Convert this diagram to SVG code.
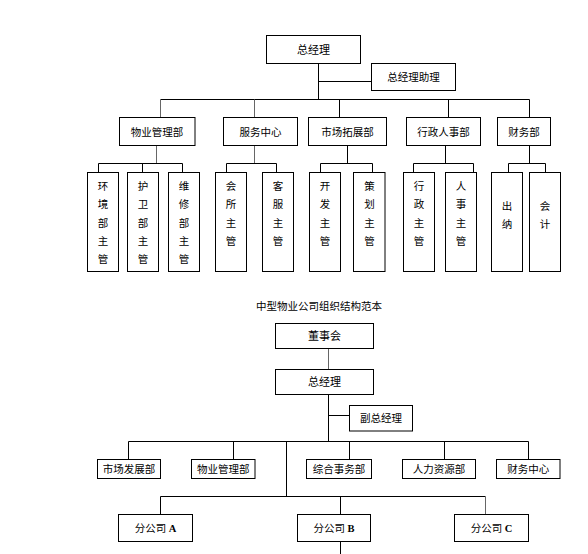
<svg xmlns="http://www.w3.org/2000/svg" width="588" height="554" viewBox="0 0 588 554">
<style>
rect{fill:#fff;stroke:#000;stroke-width:1}
text{font-family:"Noto Sans CJK SC","Noto Sans CJK JP",sans-serif;font-size:10.5px;fill:#000;text-anchor:middle}
.c line{stroke:#000;stroke-width:1}
.c line.g{stroke:#666}
.lat{font-family:"Liberation Serif",serif;font-weight:bold}
</style>
<rect x="0" y="0" width="588" height="554" style="stroke:none"/>
<g class="c" id="connectors">
<line x1="318.5" y1="63" x2="318.5" y2="99.5"/>
<line x1="318.5" y1="81.5" x2="371.5" y2="81.5"/>
<line x1="160.5" y1="99.5" x2="529.5" y2="99.5"/>
<line class="g" x1="160.5" y1="99.5" x2="160.5" y2="117.5"/>
<line class="g" x1="254.5" y1="99.5" x2="254.5" y2="117.5"/>
<line x1="339.5" y1="99.5" x2="339.5" y2="117.5"/>
<line x1="448.5" y1="99.5" x2="448.5" y2="117.5"/>
<line x1="529.5" y1="99.5" x2="529.5" y2="117.5"/>
<line class="g" x1="156.5" y1="145.5" x2="156.5" y2="163.5"/>
<line x1="98.5" y1="163.5" x2="182.5" y2="163.5"/>
<line x1="98.5" y1="163.5" x2="98.5" y2="172.5"/>
<line x1="142.5" y1="163.5" x2="142.5" y2="172.5"/>
<line x1="182.5" y1="163.5" x2="182.5" y2="172.5"/>
<line class="g" x1="254.5" y1="145.5" x2="254.5" y2="163.5"/>
<line x1="226.5" y1="163.5" x2="276.5" y2="163.5"/>
<line x1="226.5" y1="163.5" x2="226.5" y2="172.5"/>
<line x1="276.5" y1="163.5" x2="276.5" y2="172.5"/>
<line x1="347.5" y1="145.5" x2="347.5" y2="163.5"/>
<line x1="320.5" y1="163.5" x2="372.5" y2="163.5"/>
<line x1="320.5" y1="163.5" x2="320.5" y2="172.5"/>
<line x1="372.5" y1="163.5" x2="372.5" y2="172.5"/>
<line x1="445.5" y1="145.5" x2="445.5" y2="163.5"/>
<line x1="413.5" y1="163.5" x2="473.5" y2="163.5"/>
<line x1="413.5" y1="163.5" x2="413.5" y2="172.5"/>
<line x1="473.5" y1="163.5" x2="473.5" y2="172.5"/>
<line x1="529.5" y1="145.5" x2="529.5" y2="163.5"/>
<line x1="508.5" y1="163.5" x2="545.5" y2="163.5"/>
<line x1="508.5" y1="163.5" x2="508.5" y2="172.5"/>
<line x1="545.5" y1="163.5" x2="545.5" y2="172.5"/>
<line class="g" x1="328.5" y1="348.5" x2="328.5" y2="369.5"/>
<line x1="328.5" y1="394.5" x2="328.5" y2="441.5"/>
<line x1="328.5" y1="415.5" x2="349.5" y2="415.5"/>
<line x1="128.5" y1="441.5" x2="528.5" y2="441.5"/>
<line x1="128.5" y1="441.5" x2="128.5" y2="459.5"/>
<line x1="233.5" y1="441.5" x2="233.5" y2="459.5"/>
<line x1="349.5" y1="441.5" x2="349.5" y2="459.5"/>
<line x1="444.5" y1="441.5" x2="444.5" y2="459.5"/>
<line x1="528.5" y1="441.5" x2="528.5" y2="459.5"/>
<line x1="286.5" y1="441.5" x2="286.5" y2="496.5"/>
<line x1="160.5" y1="496.5" x2="485.5" y2="496.5"/>
<line x1="160.5" y1="496.5" x2="160.5" y2="514.5"/>
<line x1="340.5" y1="496.5" x2="340.5" y2="514.5"/>
<line class="g" x1="485.5" y1="496.5" x2="485.5" y2="514.5"/>
<line x1="340.5" y1="541.5" x2="340.5" y2="554"/>
</g>
<g id="n_gm"><rect x="266.5" y="35.5" width="94" height="28"/><text x="313.5" y="53.5" style="font-size:11px">总经理</text></g>
<g id="n_asst"><rect x="371.5" y="63.5" width="84" height="27"/><text x="413.5" y="81">总经理助理</text></g>
<g id="n_wy"><rect x="119.5" y="117.5" width="75.5" height="28"/><text x="157" y="135.5">物业管理部</text></g>
<g id="n_fw"><rect x="223.5" y="117.5" width="74" height="28"/><text x="260.5" y="135.5">服务中心</text></g>
<g id="n_sc"><rect x="308.5" y="117.5" width="78" height="28"/><text x="347.5" y="135.5">市场拓展部</text></g>
<g id="n_xz"><rect x="406.5" y="117.5" width="74" height="28"/><text x="443.5" y="135.5">行政人事部</text></g>
<g id="n_cw"><rect x="497.5" y="117.5" width="53" height="28"/><text x="524" y="135.5">财务部</text></g>
<g id="s_hj"><rect x="87.5" y="172.5" width="31" height="99"/><text y="190"><tspan x="103">环</tspan><tspan x="103" dy="18.25">境</tspan><tspan x="103" dy="18.25">部</tspan><tspan x="103" dy="18.25">主</tspan><tspan x="103" dy="18.25">管</tspan></text></g>
<g id="s_hw"><rect x="127.5" y="172.5" width="31" height="99"/><text y="190"><tspan x="143">护</tspan><tspan x="143" dy="18.25">卫</tspan><tspan x="143" dy="18.25">部</tspan><tspan x="143" dy="18.25">主</tspan><tspan x="143" dy="18.25">管</tspan></text></g>
<g id="s_wx"><rect x="168.5" y="172.5" width="31" height="99"/><text y="190"><tspan x="184">维</tspan><tspan x="184" dy="18.25">修</tspan><tspan x="184" dy="18.25">部</tspan><tspan x="184" dy="18.25">主</tspan><tspan x="184" dy="18.25">管</tspan></text></g>
<g id="s_hs"><rect x="215.5" y="172.5" width="31" height="99"/><text y="190"><tspan x="231">会</tspan><tspan x="231" dy="18.25">所</tspan><tspan x="231" dy="18.25">主</tspan><tspan x="231" dy="18.25">管</tspan></text></g>
<g id="s_kf"><rect x="262.5" y="172.5" width="31" height="99"/><text y="190"><tspan x="278">客</tspan><tspan x="278" dy="18.25">服</tspan><tspan x="278" dy="18.25">主</tspan><tspan x="278" dy="18.25">管</tspan></text></g>
<g id="s_kfa"><rect x="309.5" y="172.5" width="31" height="99"/><text y="190"><tspan x="325">开</tspan><tspan x="325" dy="18.25">发</tspan><tspan x="325" dy="18.25">主</tspan><tspan x="325" dy="18.25">管</tspan></text></g>
<g id="s_ch"><rect x="353.5" y="172.5" width="31.5" height="99"/><text y="190"><tspan x="369.5">策</tspan><tspan x="369.5" dy="18.25">划</tspan><tspan x="369.5" dy="18.25">主</tspan><tspan x="369.5" dy="18.25">管</tspan></text></g>
<g id="s_xz"><rect x="403.5" y="172.5" width="31" height="99"/><text y="190"><tspan x="419">行</tspan><tspan x="419" dy="18.25">政</tspan><tspan x="419" dy="18.25">主</tspan><tspan x="419" dy="18.25">管</tspan></text></g>
<g id="s_rs"><rect x="445.5" y="172.5" width="31" height="99"/><text y="190"><tspan x="461">人</tspan><tspan x="461" dy="18.25">事</tspan><tspan x="461" dy="18.25">主</tspan><tspan x="461" dy="18.25">管</tspan></text></g>
<g id="s_cn"><rect x="491.5" y="172.5" width="31" height="99"/><text y="209.5"><tspan x="507">出</tspan><tspan x="507" dy="18">纳</tspan></text></g>
<g id="s_kj"><rect x="529.5" y="172.5" width="31" height="99"/><text y="209.5"><tspan x="545">会</tspan><tspan x="545" dy="18">计</tspan></text></g>
<text id="title" x="319" y="309.5">中型物业公司组织结构范本</text>
<g id="b_dsh"><rect x="275.5" y="323.5" width="98" height="25"/><text x="324.5" y="340" style="font-size:11px">董事会</text></g>
<g id="b_gm"><rect x="275.5" y="369.5" width="98" height="25"/><text x="324.5" y="386" style="font-size:11px">总经理</text></g>
<g id="b_fgm"><rect x="349.5" y="405.5" width="63" height="25.5"/><text x="381" y="422">副总经理</text></g>
<g id="b_sc"><rect x="97.5" y="459.5" width="63" height="19"/><text x="129" y="473">市场发展部</text></g>
<g id="b_wy"><rect x="191.5" y="459.5" width="63.5" height="19"/><text x="223.3" y="473">物业管理部</text></g>
<g id="b_zh"><rect x="306.5" y="459.5" width="65" height="19"/><text x="339" y="473">综合事务部</text></g>
<g id="b_rl"><rect x="402.5" y="459.5" width="73" height="19"/><text x="439" y="473">人力资源部</text></g>
<g id="b_cw"><rect x="496.5" y="459.5" width="63.5" height="19"/><text x="528.3" y="473">财务中心</text></g>
<g id="b_a"><rect x="118.5" y="514.5" width="74" height="27"/><text x="155.5" y="532">分公司 <tspan class="lat">A</tspan></text></g>
<g id="b_b"><rect x="297.5" y="514.5" width="73" height="27"/><text x="334" y="532">分公司 <tspan class="lat">B</tspan></text></g>
<g id="b_c"><rect x="454.5" y="514.5" width="74" height="27"/><text x="491.5" y="532">分公司 <tspan class="lat">C</tspan></text></g>
</svg>
